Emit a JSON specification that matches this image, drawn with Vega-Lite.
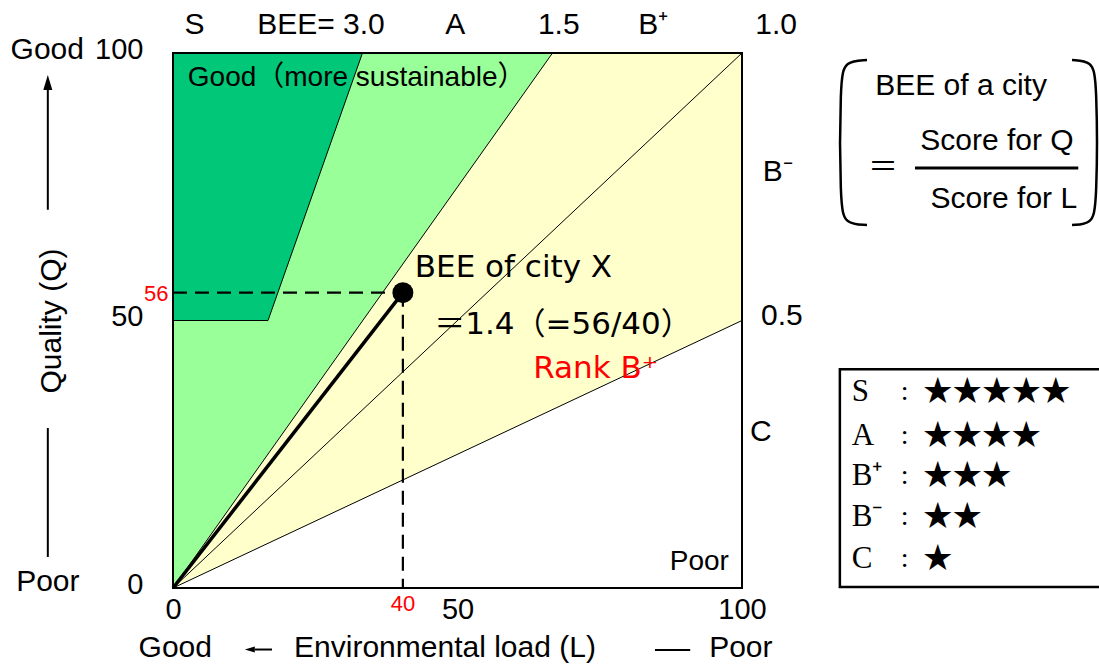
{
  "$schema": "https://vega.github.io/schema/vega-lite/v6.json",
  "width": 569,
  "height": 535,
  "autosize": {"type": "none"},
  "padding": {"left": 173, "top": 53, "right": 357, "bottom": 77},
  "background": "white",
  "config": {"view": {"stroke": null}, "text": {"font": "Liberation Sans", "color": "black"}},
  "encoding": {
    "x": {"field": "L", "type": "quantitative", "scale": {"domain": [0, 100], "nice": false, "zero": false},
      "axis": {"values": [0, 50, 100], "ticks": false, "tickSize": 0, "domain": false, "grid": false, "labelFontSize": 29, "labelFont": "Liberation Sans", "labelColor": "black", "labelPadding": 7, "labelFlush": false, "labelOverlap": false, "labelBound": false, "title": null, "format": "d"}},
    "y": {"field": "Q", "type": "quantitative", "scale": {"domain": [0, 100], "nice": false, "zero": false},
      "axis": {"values": [0, 50, 100], "ticks": false, "tickSize": 0, "domain": false, "grid": false, "labelFontSize": 29, "labelFont": "Liberation Sans", "labelColor": "black", "labelPadding": 30, "labelOffset": -4, "labelBaseline": "middle", "labelFlush": false, "labelOverlap": false, "labelBound": false, "title": null, "format": "d"}}
  },
  "layer": [
    {"data": {"values": [{"L": 0, "Q": 0, "Q2": 100}, {"L": 100, "Q": 50, "Q2": 100}]},
     "mark": {"type": "area", "fill": "#FFFFCC", "opacity": 1},
     "encoding": {"y2": {"field": "Q2"}}},
    {"data": {"values": [{"L": 0, "Q": 0, "Q2": 100}, {"L": 66.7, "Q": 100, "Q2": 100}]},
     "mark": {"type": "area", "fill": "#99FF99", "opacity": 1},
     "encoding": {"y2": {"field": "Q2"}}},
    {"data": {"values": [{"L": 0, "Q": 50, "Q2": 100}, {"L": 16.7, "Q": 50, "Q2": 100}, {"L": 33.3, "Q": 100, "Q2": 100}]},
     "mark": {"type": "area", "fill": "#00C878", "opacity": 1},
     "encoding": {"y2": {"field": "Q2"}}},
    {"data": {"values": [
      {"L": 0, "Q": 0, "L2": 100, "Q2": 100},
      {"L": 0, "Q": 0, "L2": 100, "Q2": 50},
      {"L": 0, "Q": 0, "L2": 66.7, "Q2": 100},
      {"L": 16.7, "Q": 50, "L2": 33.3, "Q2": 100},
      {"L": 0, "Q": 50, "L2": 16.7, "Q2": 50}]},
     "mark": {"type": "rule", "color": "black", "strokeWidth": 1},
     "encoding": {"x2": {"field": "L2"}, "y2": {"field": "Q2"}}},
    {"data": {"values": [
      {"L": 0, "Q": 55.2, "L2": 40.4, "Q2": 55.2},
      {"L": 40.4, "Q": 55.2, "L2": 40.4, "Q2": 0}]},
     "mark": {"type": "rule", "color": "black", "strokeWidth": 2.2, "strokeDash": [14, 8]},
     "encoding": {"x2": {"field": "L2"}, "y2": {"field": "Q2"}}},
    {"data": {"values": [{"L": 0, "Q": 0, "L2": 40.4, "Q2": 55.2}]},
     "mark": {"type": "rule", "color": "black", "strokeWidth": 3.5},
     "encoding": {"x2": {"field": "L2"}, "y2": {"field": "Q2"}}},
    {"data": {"values": [{"L": 40.4, "Q": 55.2}]},
     "mark": {"type": "point", "shape": "circle", "filled": true, "size": 441, "color": "black", "opacity": 1}},
    {"data": {"values": [{"L": 0, "Q": 0, "L2": 100, "Q2": 100}]},
     "mark": {"type": "rect", "fill": null, "stroke": "black", "strokeWidth": 2},
     "encoding": {"x2": {"field": "L2"}, "y2": {"field": "Q2"}}},
    {"data": {"values": [
      {"L": 3.8, "Q": 105.2, "t": "S"},
      {"L": 26.0, "Q": 105.2, "t": "BEE= 3.0"},
      {"L": 49.6, "Q": 105.2, "t": "A"},
      {"L": 67.8, "Q": 105.2, "t": "1.5"},
      {"L": 84.4, "Q": 105.2, "t": "B⁺"},
      {"L": 106.0, "Q": 105.2, "t": "1.0"},
      {"L": 106.3, "Q": 77.8, "t": "B⁻"},
      {"L": 107.0, "Q": 50.8, "t": "0.5"},
      {"L": 103.3, "Q": 29.2, "t": "C"},
      {"L": -22.1, "Q": 100.6, "t": "Good"},
      {"L": -22.0, "Q": 1.1, "t": "Poor"},
      {"L": 0.4, "Q": -11.2, "t": "Good"},
      {"L": 47.8, "Q": -11.2, "t": "Environmental load (L)"},
      {"L": 99.8, "Q": -11.2, "t": "Poor"},
      {"L": 138.5, "Q": 93.8, "t": "BEE of a city"},
      {"L": 144.8, "Q": 83.6, "t": "Score for Q"},
      {"L": 146.0, "Q": 72.7, "t": "Score for L"}]},
     "mark": {"type": "text", "fontSize": 30, "align": "center", "baseline": "middle"},
     "encoding": {"text": {"field": "t"}}},
    {"data": {"values": [{"L": 124.8, "Q": 78.5, "t": "＝"}]},
     "mark": {"type": "text", "fontSize": 30, "font": "Noto Sans CJK JP", "align": "center", "baseline": "middle"},
     "encoding": {"text": {"field": "t"}}},
    {"data": {"values": [{"L": -21.3, "Q": 49.9, "t": "Quality (Q)"}]},
     "mark": {"type": "text", "fontSize": 30, "angle": 270, "align": "center", "baseline": "middle"},
     "encoding": {"text": {"field": "t"}}},
    {"data": {"values": [
      {"L": 42.5, "Q": 59.8, "t": "BEE of city X"},
      {"L": 45.9, "Q": 49.2, "t": "＝1.4（=56/40）"}]},
     "mark": {"type": "text", "fontSize": 31, "font": "DejaVu Sans, Noto Sans CJK JP", "align": "left", "baseline": "middle"},
     "encoding": {"text": {"field": "t"}}},
    {"data": {"values": [{"L": 63.3, "Q": 40.9, "t": "Rank B⁺"}]},
     "mark": {"type": "text", "fontSize": 31, "font": "DejaVu Sans", "align": "left", "baseline": "middle", "color": "#FF0000"},
     "encoding": {"text": {"field": "t"}}},
    {"data": {"values": [{"L": -0.8, "Q": 55.0, "t": "56"}]},
     "mark": {"type": "text", "fontSize": 22, "align": "right", "baseline": "middle", "color": "#FF0000"},
     "encoding": {"text": {"field": "t"}}},
    {"data": {"values": [{"L": 40.4, "Q": -2.9, "t": "40"}]},
     "mark": {"type": "text", "fontSize": 22, "align": "center", "baseline": "middle", "color": "#FF0000"},
     "encoding": {"text": {"field": "t"}}},
    {"data": {"values": [{"L": 2.6, "Q": 95.3, "t": "Good（more sustainable）"}]},
     "mark": {"type": "text", "fontSize": 28, "font": "Liberation Sans, Noto Sans CJK JP", "align": "left", "baseline": "middle"},
     "encoding": {"text": {"field": "t"}}},
    {"data": {"values": [{"L": 97.7, "Q": 4.9, "t": "Poor"}]},
     "mark": {"type": "text", "fontSize": 28, "align": "right", "baseline": "middle"},
     "encoding": {"text": {"field": "t"}}},
    {"data": {"values": [
      {"L": -22.0, "Q": 70.7, "L2": -22.0, "Q2": 94.0},
      {"L": -22.0, "Q": 29.9, "L2": -22.0, "Q2": 5.8},
      {"L": 14.4, "Q": -11.5, "L2": 17.4, "Q2": -11.5},
      {"L": 84.7, "Q": -11.6, "L2": 90.9, "Q2": -11.6}]},
     "mark": {"type": "rule", "color": "black", "strokeWidth": 2},
     "encoding": {"x2": {"field": "L2"}, "y2": {"field": "Q2"}}},
    {"data": {"values": [{"L": -22.0, "Q": 94.5}]},
     "mark": {"type": "point", "shape": "M0,-1L0.6,1L-0.6,1Z", "filled": true, "size": 225, "color": "black", "opacity": 1}},
    {"data": {"values": [{"L": 13.5, "Q": -11.5}]},
     "mark": {"type": "point", "shape": "M-1,0L1,-0.6L1,0.6Z", "filled": true, "size": 100, "color": "black", "opacity": 1}},
    {"data": {"values": [
      {"side": "l", "i": 0, "L": 121.97, "Q": 98.69},
      {"side": "l", "i": 1, "L": 118.10, "Q": 98.50},
      {"side": "l", "i": 2, "L": 117.22, "Q": 94.95},
      {"side": "l", "i": 3, "L": 117.22, "Q": 71.59},
      {"side": "l", "i": 4, "L": 118.10, "Q": 68.04},
      {"side": "l", "i": 5, "L": 121.97, "Q": 67.85},
      {"side": "r", "i": 0, "L": 158.0, "Q": 98.69},
      {"side": "r", "i": 1, "L": 161.5, "Q": 98.50},
      {"side": "r", "i": 2, "L": 162.4, "Q": 94.95},
      {"side": "r", "i": 3, "L": 162.4, "Q": 71.59},
      {"side": "r", "i": 4, "L": 161.5, "Q": 68.04},
      {"side": "r", "i": 5, "L": 158.0, "Q": 67.85}]},
     "mark": {"type": "line", "interpolate": "basis", "color": "black", "strokeWidth": 2.5},
     "encoding": {"detail": {"field": "side"}, "order": {"field": "i", "type": "quantitative"}}},
    {"data": {"values": [{"L": 130.4, "Q": 78.5, "L2": 159.1, "Q2": 78.5}]},
     "mark": {"type": "rule", "color": "black", "strokeWidth": 3},
     "encoding": {"x2": {"field": "L2"}, "y2": {"field": "Q2"}}},
    {"data": {"values": [{"L": 117.2, "Q": 40.9, "L2": 163.5, "Q2": 0.2}]},
     "mark": {"type": "rect", "fill": null, "stroke": "black", "strokeWidth": 2.5},
     "encoding": {"x2": {"field": "L2"}, "y2": {"field": "Q2"}}},
    {"data": {"values": [
      {"L": 119.3, "Q": 36.6, "t": "S"},
      {"L": 119.3, "Q": 28.5, "t": "A"},
      {"L": 119.3, "Q": 20.9, "t": "B⁺"},
      {"L": 119.3, "Q": 13.3, "t": "B⁻"},
      {"L": 119.3, "Q": 5.5, "t": "C"}]},
     "mark": {"type": "text", "fontSize": 31, "font": "Liberation Serif", "align": "left", "baseline": "middle"},
     "encoding": {"text": {"field": "t"}}},
    {"data": {"values": [
      {"L": 128.6, "Q": 36.6, "t": ":"},
      {"L": 128.6, "Q": 28.5, "t": ":"},
      {"L": 128.6, "Q": 20.9, "t": ":"},
      {"L": 128.6, "Q": 13.3, "t": ":"},
      {"L": 128.6, "Q": 5.5, "t": ":"}]},
     "mark": {"type": "text", "fontSize": 28, "font": "Liberation Serif", "align": "center", "baseline": "middle"},
     "encoding": {"text": {"field": "t"}}},
    {"data": {"values": [
      {"L": 131.8, "Q": 36.6, "t": "★★★★★"},
      {"L": 131.8, "Q": 28.5, "t": "★★★★"},
      {"L": 131.8, "Q": 20.9, "t": "★★★"},
      {"L": 131.8, "Q": 13.3, "t": "★★"},
      {"L": 131.8, "Q": 5.5, "t": "★"}]},
     "mark": {"type": "text", "fontSize": 29.5, "font": "Noto Sans CJK JP", "align": "left", "baseline": "middle"},
     "encoding": {"text": {"field": "t"}}}
  ]
}
